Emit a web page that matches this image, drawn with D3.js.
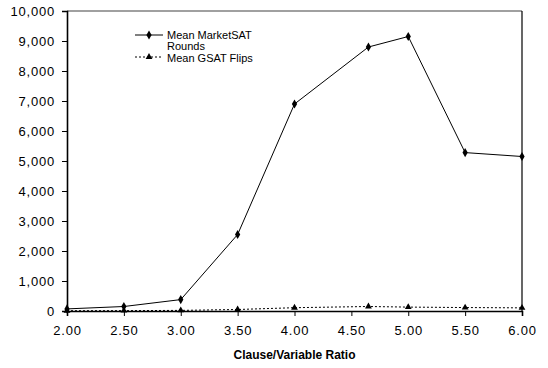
<!DOCTYPE html>
<html>
<head>
<meta charset="utf-8">
<script src="https://cdn.jsdelivr.net/npm/d3@7"></script>
<style>
  html, body { margin: 0; padding: 0; background: #fff; }
  svg { display: block; font-family: "Liberation Sans", Arial, sans-serif; }
</style>
</head>
<body>
<svg id="chart" width="548" height="368"></svg>
<script>
const ratios = [2.0, 2.5, 3.0, 3.5, 4.0, 4.65, 5.0, 5.5, 6.0];
const marketSatRounds = [70, 150, 380, 2550, 6900, 8800, 9150, 5280, 5150];
const gsatFlips = [10, 12, 20, 50, 110, 150, 130, 115, 105];
const xTicks = [2.0, 2.5, 3.0, 3.5, 4.0, 4.5, 5.0, 5.5, 6.0];
const yTicks = [0, 1000, 2000, 3000, 4000, 5000, 6000, 7000, 8000, 9000, 10000];
const seriesNames = ["Mean MarketSAT", "Rounds", "Mean GSAT Flips"];
const xTitle = "Clause/Variable Ratio";

const svg = d3.select("#chart");
const m = { left: 67, right: 522, top: 11, bottom: 311 };
const x = d3.scaleLinear().domain([2, 6]).range([m.left, m.right]);
const y = d3.scaleLinear().domain([0, 10000]).range([m.bottom, m.top]);

// plot frame (top and right)
svg.append("line").attr("x1", m.left).attr("x2", m.right).attr("y1", m.top).attr("y2", m.top)
  .attr("stroke", "#808080").attr("stroke-width", 1.5);
svg.append("line").attr("x1", m.right).attr("x2", m.right).attr("y1", m.top).attr("y2", m.bottom)
  .attr("stroke", "#000").attr("stroke-width", 1.2);

// axes
const yAxis = svg.append("g").attr("transform", `translate(${m.left},0)`)
  .call(d3.axisLeft(y).tickValues(yTicks).tickSize(5).tickPadding(7).tickFormat(d3.format(",")));
const xAxis = svg.append("g").attr("transform", `translate(0,${m.bottom})`)
  .call(d3.axisBottom(x).tickValues(xTicks).tickSize(5).tickPadding(10).tickFormat(d3.format(".2f")));
[yAxis, xAxis].forEach(g => {
  g.select(".domain").attr("stroke", "#000").attr("stroke-width", 1.6);
  g.selectAll(".tick line").attr("stroke", "#000");
  g.selectAll("text").attr("font-size", 13).attr("fill", "#000")
    .attr("font-family", "'Liberation Sans', Arial, sans-serif").style("letter-spacing", "0.8px");
});

// axis title
svg.append("text").attr("x", (m.left + m.right) / 2).attr("y", 359)
  .attr("text-anchor", "middle").attr("font-size", 12).attr("font-weight", "bold").text(xTitle);

// series
const line = d3.line().x(d => x(d[0])).y(d => y(d[1]));
const dMarket = ratios.map((r, i) => [r, marketSatRounds[i]]);
const dGsat = ratios.map((r, i) => [r, gsatFlips[i]]);

svg.append("path").datum(dGsat).attr("d", line).attr("fill", "none")
  .attr("stroke", "#000").attr("stroke-width", 1).attr("stroke-dasharray", "2,2");
svg.append("path").datum(dMarket).attr("d", line).attr("fill", "none")
  .attr("stroke", "#000").attr("stroke-width", 1);

const diamond = d3.symbol().type(d3.symbolDiamond).size(24);
const tri = d3.symbol().type(d3.symbolTriangle).size(20);
svg.selectAll(".mk1").data(dMarket).join("path").attr("class", "mk1")
  .attr("transform", d => `translate(${x(d[0])},${y(d[1])})`).attr("d", diamond).attr("fill", "#000");
svg.selectAll(".mk2").data(dGsat).join("path").attr("class", "mk2")
  .attr("transform", d => `translate(${x(d[0])},${y(d[1])})`).attr("d", tri).attr("fill", "#000");

// legend
const lg = svg.append("g").attr("font-size", 11);
lg.append("line").attr("x1", 135).attr("x2", 163).attr("y1", 35).attr("y2", 35).attr("stroke", "#000");
lg.append("path").attr("transform", "translate(149,35)").attr("d", diamond).attr("fill", "#000");
lg.append("text").attr("x", 167).attr("y", 39).text(seriesNames[0]);
lg.append("text").attr("x", 167).attr("y", 50).text(seriesNames[1]);
lg.append("line").attr("x1", 135).attr("x2", 163).attr("y1", 57).attr("y2", 57).attr("stroke", "#000")
  .attr("stroke-dasharray", "2,2");
lg.append("path").attr("transform", "translate(149,57)").attr("d", tri).attr("fill", "#000");
lg.append("text").attr("x", 167).attr("y", 61.5).text(seriesNames[2]);
</script>
</body>
</html>
